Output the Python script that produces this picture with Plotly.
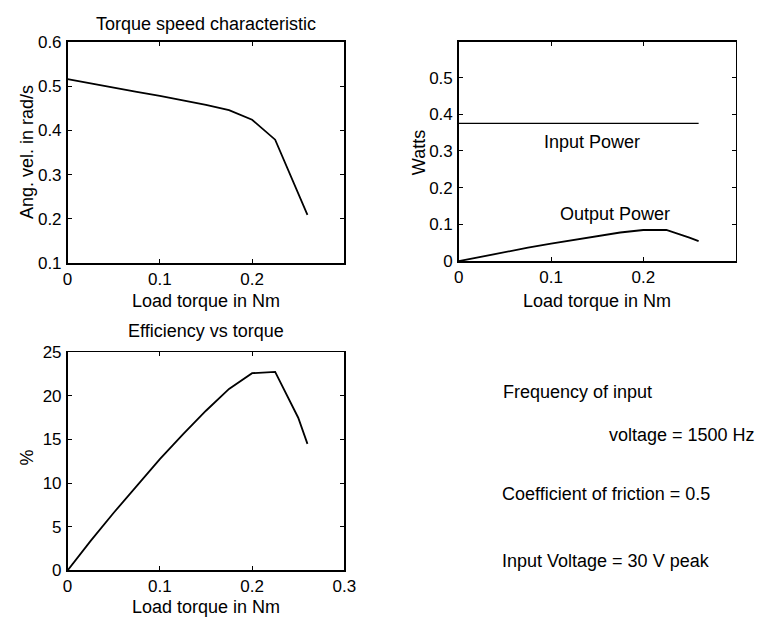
import plotly.graph_objects as go

# ---- data ----
torque = [0, 0.025, 0.05, 0.075, 0.1, 0.125, 0.15, 0.175, 0.2, 0.225, 0.25, 0.26]
ang_vel = [0.516, 0.506, 0.496, 0.487, 0.478, 0.468, 0.458, 0.446, 0.424, 0.379, 0.258, 0.209]
input_power = [0.375] * len(torque)
output_power = [0, 0.0127, 0.0248, 0.0365, 0.0478, 0.0585, 0.0687, 0.078, 0.0848, 0.0853, 0.064, 0.0543]
efficiency = [0, 3.39, 6.61, 9.73, 12.75, 15.6, 18.3, 20.8, 22.6, 22.75, 17.5, 14.5]

x_ticks_top = [0, 0.1, 0.2]
x_ticks_bottom = [0, 0.1, 0.2, 0.3]
y_ticks_speed = [0.1, 0.2, 0.3, 0.4, 0.5, 0.6]
y_ticks_power = [0, 0.1, 0.2, 0.3, 0.4, 0.5]
y_ticks_eff = [0, 5, 10, 15, 20, 25]

info_lines = ["Frequency of input", "voltage = 1500 Hz",
              "Coefficient of friction = 0.5", "Input Voltage = 30 V peak"]

W, H = 771, 627
FONT = "Liberation Sans, Arial, Helvetica, sans-serif"
FS = 18
TFS = 17

def px_x(p):
    return p / W

def px_y(p):
    return 1 - p / H

fig = go.Figure()
line = dict(color="black", width=1.8)
fig.add_trace(go.Scatter(x=torque, y=ang_vel, mode="lines", line=line, xaxis="x", yaxis="y"))
fig.add_trace(go.Scatter(x=torque, y=input_power, mode="lines", line=dict(color="black", width=1.2), xaxis="x2", yaxis="y2"))
fig.add_trace(go.Scatter(x=torque, y=output_power, mode="lines", line=line, xaxis="x2", yaxis="y2"))
fig.add_trace(go.Scatter(x=torque, y=efficiency, mode="lines", line=line, xaxis="x3", yaxis="y3"))

axis_common = dict(showgrid=False, zeroline=False, showline=True, linecolor="black", linewidth=1.6,
                   mirror="allticks", ticks="inside", ticklen=4, tickcolor="black", tickwidth=1,
                   tickfont=dict(family=FONT, size=TFS, color="black"), fixedrange=True)
xcommon = dict(axis_common, ticklabelstandoff=0)
ycommon = dict(axis_common, ticklabelstandoff=1)

fig.update_layout(
    width=W, height=H, margin=dict(l=0, r=0, t=0, b=0),
    paper_bgcolor="white", plot_bgcolor="white", showlegend=False,
    font=dict(family=FONT, size=FS, color="black"),
    xaxis=dict(xcommon, domain=[px_x(64), px_x(347)], range=[0, 0.3], tickvals=x_ticks_top,
               ticktext=["0", "0.1", "0.2"], anchor="y"),
    yaxis=dict(ycommon, domain=[px_y(262), px_y(34)], range=[0.1, 0.6], tickvals=y_ticks_speed,
               ticktext=["0.1", "0.2", "0.3", "0.4", "0.5", "0.6"], anchor="x"),
    xaxis2=dict(xcommon, domain=[px_x(464), px_x(747)], range=[0, 0.3], tickvals=x_ticks_top,
                ticktext=["0", "0.1", "0.2"], anchor="y2"),
    yaxis2=dict(ycommon, domain=[px_y(260), px_y(34)], range=[0, 0.597], tickvals=y_ticks_power,
                ticktext=["0", "0.1", "0.2", "0.3", "0.4", "0.5"], anchor="x2"),
    xaxis3=dict(xcommon, domain=[px_x(64), px_x(347)], range=[0, 0.3], tickvals=x_ticks_bottom,
                ticktext=["0", "0.1", "0.2", "0.3"], anchor="y3"),
    yaxis3=dict(ycommon, domain=[px_y(579), px_y(354)], range=[0, 25], tickvals=y_ticks_eff,
                ticktext=["0", "5", "10", "15", "20", "25"], anchor="x3"),
)

anns = []
def paper_text(text, x, y, xanchor="center", angle=0):
    anns.append(dict(text=text, x=px_x(x), y=px_y(y), xref="paper", yref="paper",
                     xanchor=xanchor, yanchor="middle", showarrow=False, textangle=angle,
                     borderpad=0, font=dict(family=FONT, size=FS, color="black")))

# titles
paper_text("Torque speed characteristic", 206, 15)
paper_text("Efficiency vs torque", 206, 332)
# x-axis titles
paper_text("Load torque in Nm", 206, 301)
paper_text("Load torque in Nm", 605, 301)
paper_text("Load torque in Nm", 206, 617)
# y-axis titles
paper_text("Ang. vel. in rad/s", 22, 148, angle=-90)
paper_text("Watts", 423, 148, angle=-90)
paper_text("%", 22, 463, angle=-90)
# info text
paper_text(info_lines[0], 508, 395, xanchor="left")
paper_text(info_lines[1], 768, 439, xanchor="right")
paper_text(info_lines[2], 507, 500, xanchor="left")
paper_text(info_lines[3], 507, 569, xanchor="left")

# curve labels in data coords
anns.append(dict(text="Input Power", x=0.144, y=0.324, xref="x2", yref="y2", showarrow=False,
                 borderpad=0, font=dict(family=FONT, size=FS, color="black")))
anns.append(dict(text="Output Power", x=0.169, y=0.127, xref="x2", yref="y2", showarrow=False,
                 borderpad=0, font=dict(family=FONT, size=FS, color="black")))

fig.update_layout(annotations=anns)
fig.write_html("out.html", config={"displayModeBar": False, "staticPlot": True},
               post_script="document.body.style.margin='0px';document.body.style.overflow='hidden';")
